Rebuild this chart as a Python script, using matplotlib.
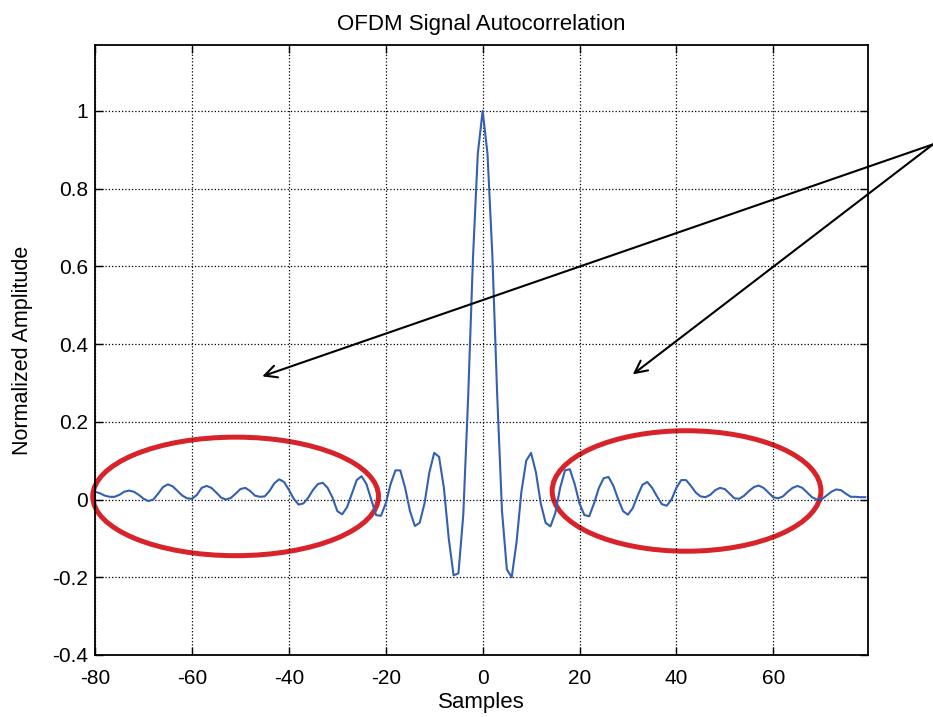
import matplotlib
matplotlib.use("Agg")
import matplotlib.pyplot as plt
from matplotlib.patches import Ellipse
import numpy as np

plt.rcParams['font.family'] = ['Liberation Sans', 'DejaVu Sans']
plt.rcParams['axes.unicode_minus'] = False

# autocorrelation, lags -80..79
lags = np.arange(-80, 80)
r_neg = [0.020, 0.016, 0.010, 0.007, 0.007, 0.012, 0.020, 0.023, 0.020, 0.012,
         0.002, -0.004, 0.000, 0.015, 0.032, 0.039, 0.034, 0.022, 0.010, 0.003,
         0.002, 0.012, 0.030, 0.035, 0.030, 0.018, 0.005, 0.000, 0.004, 0.015,
         0.027, 0.030, 0.022, 0.010, 0.007, 0.008, 0.022, 0.042, 0.052, 0.045,
         0.025, 0.002, -0.013, -0.010, 0.005, 0.025, 0.040, 0.043, 0.030, 0.005,
         -0.030, -0.038, -0.020, 0.015, 0.050, 0.060, 0.040, 0.000, -0.040, -0.042,
         -0.010, 0.040, 0.075, 0.075, 0.030, -0.030, -0.068, -0.060, -0.010, 0.070,
         0.120, 0.110, 0.030, -0.100, -0.195, -0.190, -0.040, 0.260, 0.620, 0.890]
r_pos = [1.000, 0.890, 0.630, 0.270, -0.030, -0.180, -0.200, -0.110, 0.020, 0.100,
         0.120, 0.070, -0.010, -0.060, -0.069, -0.035, 0.030, 0.075, 0.078, 0.040,
         -0.010, -0.040, -0.043, -0.010, 0.030, 0.055, 0.058, 0.035, 0.000, -0.030,
         -0.039, -0.022, 0.010, 0.038, 0.045, 0.030, 0.008, -0.012, -0.016, 0.000,
         0.030, 0.050, 0.050, 0.035, 0.018, 0.008, 0.006, 0.012, 0.024, 0.030,
         0.027, 0.015, 0.003, 0.002, 0.010, 0.022, 0.032, 0.036, 0.030, 0.018,
         0.006, 0.003, 0.008, 0.020, 0.030, 0.035, 0.030, 0.018, 0.006, 0.000,
         0.001, 0.010, 0.020, 0.026, 0.024, 0.015, 0.007, 0.007, 0.006, 0.006]
corr = np.array(r_neg + r_pos)

xticks = [-80, -60, -40, -20, 0, 20, 40, 60]
yticks = [-0.4, -0.2, 0, 0.2, 0.4, 0.6, 0.8, 1]
ylabels = ['-0.4', '-0.2', '0', '0.2', '0.4', '0.6', '0.8', '1']

fig = plt.figure(figsize=(9.33, 7.17), dpi=100)
ax = fig.add_axes([0.102, 0.0865, 0.828, 0.851])

ax.plot(lags, corr, color='#3360b0', lw=1.5)

ax.set_xlim(-80, 79.5)
ax.set_ylim(-0.4, 1.17)
ax.set_xticks(xticks)
ax.set_yticks(yticks)
ax.set_yticklabels(ylabels)
ax.grid(True, color='black', linestyle=':', linewidth=0.9)
ax.tick_params(direction='in', length=6, top=True, right=True, labelsize=15, width=1)
ax.tick_params(axis='x', pad=10)
ax.tick_params(axis='y', pad=5)
for s in ax.spines.values():
    s.set_linewidth(1.3)

ax.set_title('OFDM Signal Autocorrelation', fontsize=16, pad=11)
ax.set_xlabel('Samples', fontsize=16, labelpad=3)
ax.set_ylabel('Normalized Amplitude', fontsize=15.5, labelpad=14)

# red ellipses around the side lobes
ax.add_patch(Ellipse((-51, 0.008), 59, 0.305, fill=False, edgecolor='#d8232a', lw=3.6, clip_on=False))
ax.add_patch(Ellipse((42.1, 0.022), 55.5, 0.31, fill=False, edgecolor='#d8232a', lw=3.6, clip_on=False))

# arrows
for tip in [(-45.5, 0.317), (31.0, 0.322)]:
    ax.annotate('', xy=tip, xytext=(93, 0.914), xycoords='data', textcoords='data',
                annotation_clip=False,
                arrowprops=dict(arrowstyle='->', color='black', lw=1.5, mutation_scale=22,
                                shrinkA=0, shrinkB=0))

fig.savefig('out.png', dpi=100)
